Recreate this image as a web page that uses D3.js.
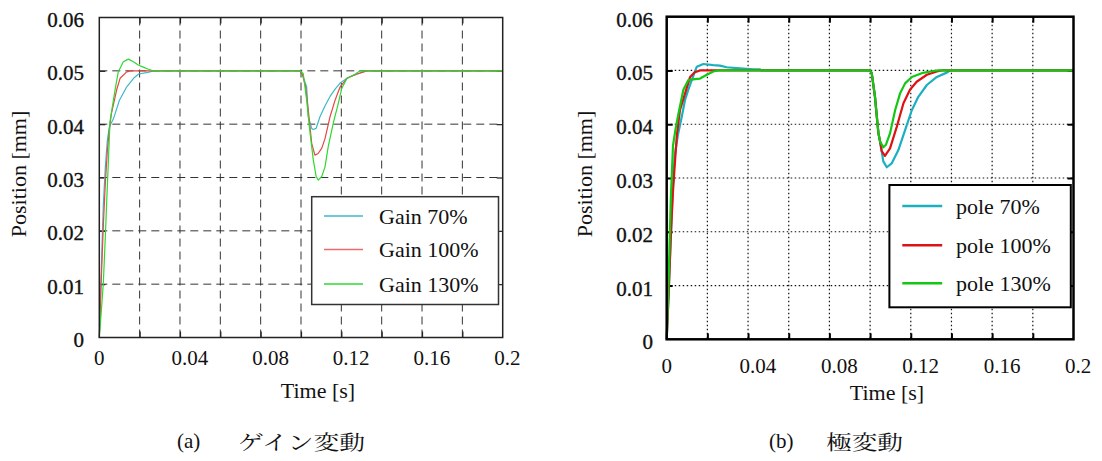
<!DOCTYPE html>
<html>
<head>
<meta charset="utf-8">
<script src="https://cdn.jsdelivr.net/npm/d3@7/dist/d3.min.js"></script>
<style>
  html, body { margin: 0; padding: 0; background: #fff; }
  svg { display: block; }
  svg text.lat { font-family: "Liberation Serif", "Noto Serif CJK JP" !important; }
  svg text.cjk { font-family: "Noto Serif CJK JP" !important; }
</style>
</head>
<body>
<svg id="fig" width="1102" height="461"></svg>
<script>
// ---- data: time [ms], position [mm] ----
const xTicks = [0, 0.04, 0.08, 0.12, 0.16, 0.2];
const xGrid = [0.02, 0.04, 0.06, 0.08, 0.1, 0.12, 0.14, 0.16, 0.18];
const yTicks = [0, 0.01, 0.02, 0.03, 0.04, 0.05, 0.06];

// (a) gain variation
const gain70 = [[0,0],[1,0.013],[2,0.025],[3,0.032],[4,0.037],[5,0.0395],[7,0.041],[10,0.0445],[13.6,0.047],[17,0.0486],[19.5,0.0494],[24,0.0497],[27,0.05],
  [99.5,0.05],[100.8,0.0492],[102.8,0.047],[103.6,0.0414],[105.3,0.0392],[106.1,0.039],[107.5,0.0392],[109.4,0.0414],[112,0.0435],[114.4,0.0452],[117,0.0466],[119.4,0.0477],[122,0.0484],[124.3,0.0489],[127,0.0493],[129.3,0.0496],[132,0.05],[200,0.05]];
const gain100 = [[0,0],[1,0.011],[2,0.021],[3,0.029],[4,0.035],[5,0.039],[6,0.042],[8.6,0.0464],[10.3,0.0486],[13.6,0.0498],[15.3,0.05],
  [99.5,0.05],[100.8,0.0492],[102.3,0.047],[103.6,0.0427],[105.3,0.0364],[106.9,0.0342],[108.5,0.0345],[110.3,0.0355],[111.9,0.0373],[114.4,0.0414],[116.9,0.0445],[119.4,0.047],[122.8,0.0486],[127.8,0.0494],[132.8,0.05],[200,0.05]];
const gain130 = [[0,0],[1,0.005],[2,0.0102],[3,0.019],[3.7,0.0258],[4.5,0.033],[5.3,0.0405],[7.8,0.0464],[9.4,0.0498],[11.9,0.0517],[14.4,0.0522],[16.9,0.0517],[19.3,0.0511],[21.8,0.0507],[24.3,0.0503],[26.8,0.05],
  [99.5,0.05],[101.1,0.0495],[102.8,0.0445],[104.5,0.0383],[106.1,0.0333],[107.5,0.0302],[108.6,0.0295],[110.3,0.0302],[111.9,0.032],[113.5,0.0358],[116,0.0402],[118.5,0.0439],[120.2,0.0467],[122.8,0.0486],[127,0.0494],[129.3,0.05],[200,0.05]];

// (b) pole variation
const pole70 = [[0,0],[1,0.009],[2,0.019],[3,0.028],[3.9,0.034],[5.5,0.038],[7.4,0.0414],[9,0.0445],[10.6,0.0464],[12.3,0.0482],[14.8,0.0507],[18,0.0512],[22.9,0.051],[26.2,0.0509],[29.5,0.0506],[36,0.0504],[42.6,0.0502],[45.9,0.0502],[46.5,0.05],
  [100,0.05],[100.8,0.0495],[102.4,0.0451],[103.3,0.0414],[104.1,0.0383],[104.9,0.0368],[106.5,0.0331],[108.2,0.032],[110.6,0.0327],[113.9,0.0352],[117.2,0.0389],[120.5,0.0426],[123.7,0.0451],[127.9,0.0473],[132.8,0.0488],[137.7,0.0496],[139.3,0.05],[200,0.05]];
const pole100 = [[0,0],[1,0.009],[2,0.019],[3,0.027],[3.9,0.0321],[5,0.038],[6.5,0.0426],[9,0.0457],[11.5,0.0488],[13.9,0.0497],[16.4,0.05],
  [100,0.05],[100.8,0.0495],[102.4,0.0451],[103.3,0.0414],[104.1,0.0383],[104.9,0.0368],[105.7,0.035],[107.3,0.0341],[109.8,0.0355],[113.1,0.0395],[116.4,0.0439],[119.6,0.0464],[122.9,0.0479],[127.9,0.0492],[132.8,0.0498],[135.3,0.05],[200,0.05]];
const pole130 = [[0,0],[1,0.012],[2,0.026],[3.1,0.036],[4.3,0.039],[5.7,0.0418],[8.2,0.0464],[10.6,0.0482],[13.9,0.0484],[16.4,0.0485],[19.7,0.0492],[22.9,0.0498],[25.4,0.05],
  [100,0.05],[100.8,0.0495],[102.4,0.0451],[103.3,0.0414],[104.1,0.0383],[104.9,0.0368],[106.5,0.0357],[107.8,0.0362],[109.8,0.0383],[112.3,0.0426],[114.7,0.0457],[117.2,0.0476],[120.5,0.0488],[125.4,0.0495],[131,0.0499],[133,0.05],[200,0.05]];

const gainLabels = ["Gain 70%", "Gain 100%", "Gain 130%"];
const poleLabels = ["pole 70%", "pole 100%", "pole 130%"];

// ---- layout ----
const svg = d3.select("#fig");

const panels = [
  {
    series: [gain70, gain100, gain130], labels: gainLabels,
    colors: ["#3cb8c8", "#e84646", "#2ed82e"], legendColors: ["#3cb8c8", "#ec6a6a", "#2ed82e"], lineW: 1.2,
    left: 99.3, right: 502.7, top: 17.5, bottom: 337.5,
    frameW: 1.5, frameC: "#222",
    gridDash: "8,5", gridC: "#333", gridW: 1,
    yLabEnd: 84, yLabDy: 9.5, xLabY: 365,
    yTitleX: 26, yTitleY: 174, titleX: 318, titleY: 398,
    legend: { x0: 311.7, x1: 498.5, y0: 196.7, y1: 304.5, lx0: 324, lx1: 363, tx: 379, ys: [216, 249.5, 284], stroke: "#333", sw: 1.5 },
    caption: { tag: "(a)", tagX: 177, jp: "ゲイン変動", jpX: 238, jpLen: 127 }
  },
  {
    series: [pole70, pole100, pole130], labels: poleLabels,
    colors: ["#1ab0c0", "#dd1212", "#12c812"], legendColors: ["#1ab0c0", "#dd1212", "#12c812"], lineW: 2.2,
    left: 666.7, right: 1073.5, top: 16.7, bottom: 339.3,
    frameW: 2.5, frameC: "#000",
    gridDash: "1.5,2.5", gridC: "#111", gridW: 1.2,
    yLabEnd: 653, yLabDy: 10, xLabY: 373,
    yTitleX: 592, yTitleY: 174, titleX: 887, titleY: 400,
    legend: { x0: 889.4, x1: 1070.8, y0: 185, y1: 307.3, lx0: 902.3, lx1: 942.2, tx: 956, ys: [206, 245.3, 283.3], stroke: "#000", sw: 2 },
    caption: { tag: "(b)", tagX: 769, jp: "極変動", jpX: 826, jpLen: 77 }
  }
];

// Latin text in Times-style serif
const txt = (sel, size) => sel.attr("class", "lat").attr("font-size", size).attr("fill", "#111");

panels.forEach(p => {
  const x = d3.scaleLinear().domain([0, 0.2]).range([p.left, p.right]);
  const y = d3.scaleLinear().domain([0, 0.06]).range([p.bottom, p.top]);
  const g = svg.append("g");

  // grid
  g.append("g").selectAll("line").data(xGrid).join("line")
    .attr("x1", d => x(d)).attr("x2", d => x(d))
    .attr("y1", p.top).attr("y2", p.bottom)
    .attr("stroke", p.gridC).attr("stroke-width", p.gridW)
    .attr("stroke-dasharray", p.gridDash);
  g.append("g").selectAll("line").data(yTicks.slice(1, -1)).join("line")
    .attr("x1", p.left).attr("x2", p.right)
    .attr("y1", d => y(d)).attr("y2", d => y(d))
    .attr("stroke", p.gridC).attr("stroke-width", p.gridW)
    .attr("stroke-dasharray", p.gridDash);

  // inward ticks on all four sides
  const tk = 6;
  const axStyle = sel => {
    sel.select(".domain").remove();
    sel.selectAll(".tick line").attr("stroke", p.frameC).attr("stroke-width", p.frameW * 0.8);
    sel.selectAll(".tick text").remove();
  };
  g.append("g").attr("transform", `translate(0,${p.bottom})`)
    .call(d3.axisBottom(x).tickValues(xGrid).tickSize(-tk)).call(axStyle);
  g.append("g").attr("transform", `translate(0,${p.top})`)
    .call(d3.axisTop(x).tickValues(xGrid).tickSize(-tk)).call(axStyle);
  g.append("g").attr("transform", `translate(${p.left},0)`)
    .call(d3.axisLeft(y).tickValues(yTicks.slice(1, -1)).tickSize(-tk)).call(axStyle);
  g.append("g").attr("transform", `translate(${p.right},0)`)
    .call(d3.axisRight(y).tickValues(yTicks.slice(1, -1)).tickSize(-tk)).call(axStyle);

  // series
  const line = d3.line().x(d => x(d[0] / 1000)).y(d => y(d[1]));
  p.series.forEach((s, i) => {
    g.append("path").datum(s).attr("d", line)
      .attr("fill", "none").attr("stroke", p.colors[i])
      .attr("stroke-width", p.lineW).attr("stroke-linejoin", "round");
  });

  // frame
  g.append("rect").attr("x", p.left).attr("y", p.top)
    .attr("width", p.right - p.left).attr("height", p.bottom - p.top)
    .attr("fill", "none").attr("stroke", p.frameC).attr("stroke-width", p.frameW);

  // tick labels
  g.append("g").selectAll("text").data(yTicks).join("text")
    .call(txt, 21)
    .attr("x", p.yLabEnd).attr("y", d => y(d) + p.yLabDy)
    .attr("text-anchor", "end")
    .attr("stroke", "#111").attr("stroke-width", 0.35)
    .text(d => d === 0 ? "0" : d.toFixed(2));
  g.append("g").selectAll("text").data(xTicks).join("text")
    .call(txt, 21)
    .attr("x", d => d === 0 ? x(d) : x(d) - 8.5).attr("y", p.xLabY)
    .attr("text-anchor", d => d === 0 ? "middle" : "start")
    .text(d => d === 0 ? "0" : d === 0.2 ? "0.2" : d.toFixed(2));

  // axis titles
  g.append("text").call(txt, 22).attr("x", p.titleX).attr("y", p.titleY)
    .attr("text-anchor", "middle").text("Time [s]");
  g.append("text").call(txt, 22)
    .attr("transform", `translate(${p.yTitleX},${p.yTitleY}) rotate(-90)`)
    .attr("text-anchor", "middle").text("Position [mm]");

  // legend
  const L = p.legend;
  g.append("rect").attr("x", L.x0).attr("y", L.y0)
    .attr("width", L.x1 - L.x0).attr("height", L.y1 - L.y0)
    .attr("fill", "#fff").attr("stroke", L.stroke).attr("stroke-width", L.sw);
  p.labels.forEach((lab, i) => {
    g.append("line").attr("x1", L.lx0).attr("x2", L.lx1)
      .attr("y1", L.ys[i]).attr("y2", L.ys[i])
      .attr("stroke", p.legendColors[i]).attr("stroke-width", p.lineW + 0.3);
    g.append("text").call(txt, 22).attr("x", L.tx).attr("y", L.ys[i] + 7.5)
      .style("white-space", "pre").text(lab);
  });

  // caption
  const C = p.caption;
  g.append("text").call(txt, 21).attr("x", C.tagX).attr("y", 448).text(C.tag);
  g.append("text").attr("class", "cjk").attr("fill", "#111")
    .attr("x", C.jpX).attr("y", 450)
    .attr("font-size", 20).attr("textLength", C.jpLen).attr("lengthAdjust", "spacingAndGlyphs")
    .text(C.jp);
});
</script>
</body>
</html>
